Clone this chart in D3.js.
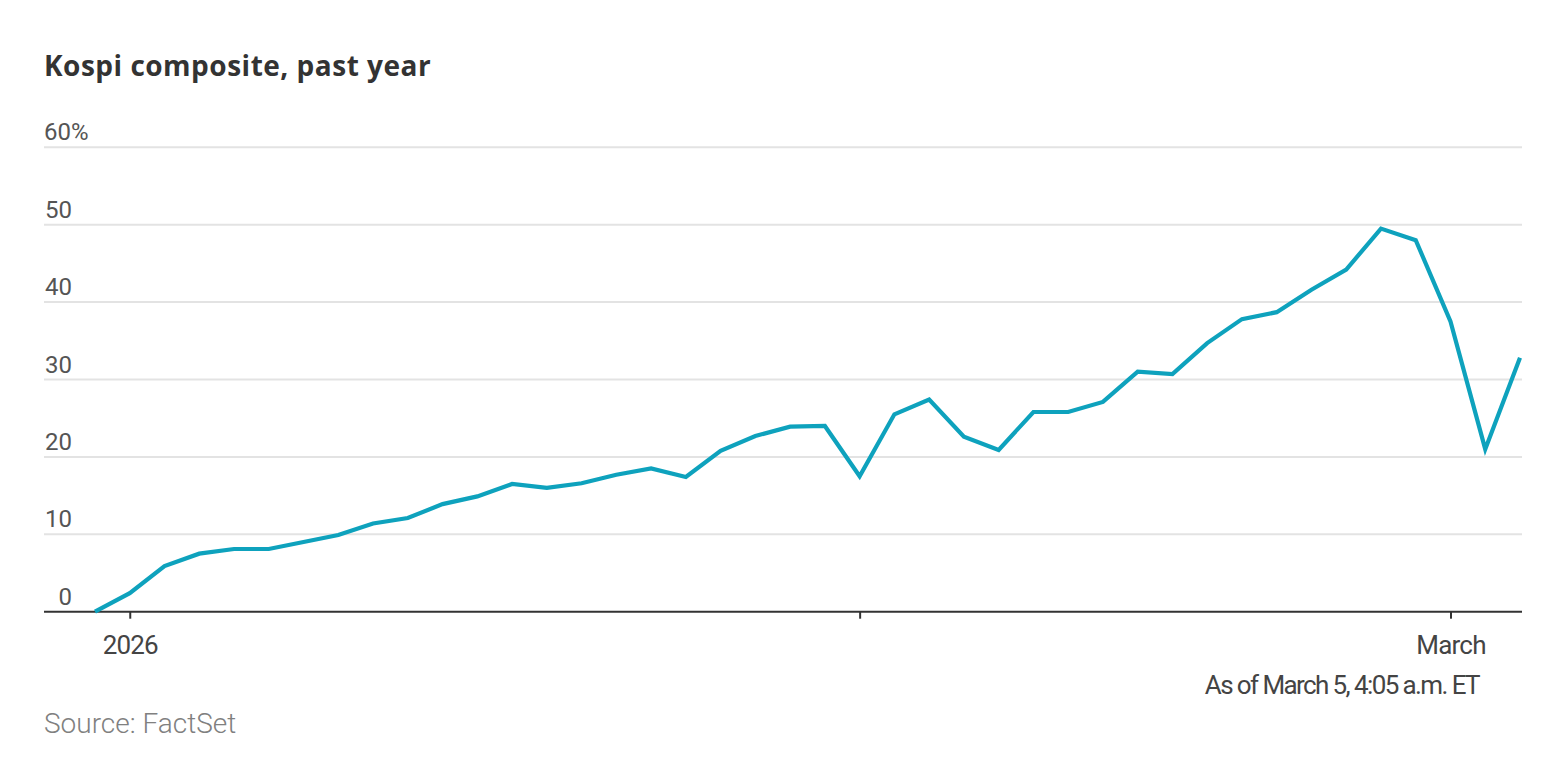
<!DOCTYPE html>
<html>
<head>
<meta charset="utf-8">
<script src="https://cdn.jsdelivr.net/npm/d3@7"></script>
<style>
  body { margin: 0; background: #fff; }
  svg { display: block; font-family: Roboto, "Noto Sans", sans-serif; }
</style>
</head>
<body>
<svg id="chart" width="1568" height="784"></svg>
<script>
// jours de bourse (Séoul), du 30 déc. 2025 au 5 mars 2026
var dates = [
  '2025-12-30',
  '2026-01-02','2026-01-05','2026-01-06','2026-01-07','2026-01-08','2026-01-09',
  '2026-01-12','2026-01-13','2026-01-14','2026-01-15','2026-01-16',
  '2026-01-19','2026-01-20','2026-01-21','2026-01-22','2026-01-23',
  '2026-01-26','2026-01-27','2026-01-28','2026-01-29','2026-01-30',
  '2026-02-02','2026-02-03','2026-02-04','2026-02-05','2026-02-06',
  '2026-02-09','2026-02-10','2026-02-11','2026-02-12','2026-02-13',
  '2026-02-19','2026-02-20',
  '2026-02-23','2026-02-24','2026-02-25','2026-02-26','2026-02-27',
  '2026-03-03','2026-03-04','2026-03-05'
];
// variation en % depuis le début
var pctChange = [
  0,
  2.4, 5.9, 7.5, 8.1, 8.1, 9.0,
  9.9, 11.4, 12.1, 13.9, 14.9,
  16.5, 16.0, 16.6, 17.7, 18.5,
  17.4, 20.8, 22.7, 23.9, 24.0,
  17.5, 25.5, 27.4, 22.6, 20.9,
  25.8, 25.8, 27.1, 31.0, 30.7,
  34.7, 37.8,
  38.7, 41.6, 44.2, 49.5, 48.0,
  37.5, 21.0, 32.8
];
var yTicks = [0, 10, 20, 30, 40, 50, 60];
var xTicks = ['2026-01-02', '2026-02-02', '2026-03-03'];
var xTickLabels = ['2026', '', 'March'];

var data = dates.map(function(d, i) { return { date: d, value: pctChange[i] }; });

var svg = d3.select('#chart');
var left = 44, right = 1522;

var x = d3.scalePoint().domain(dates).range([95, 1520]).padding(0);
var y = d3.scaleLinear().domain([0, 60]).range([611.7, 147.3]);

// titre
svg.append('text')
  .attr('x', 44).attr('y', 76)
  .attr('fill', '#333')
  .style('font-family', '"Open Sans", sans-serif')
  .style('font-size', '28px')
  .style('font-weight', 700)
  .style('letter-spacing', '0.5px')
  .text('Kospi composite, past year');

// grille + étiquettes Y
var grid = svg.append('g');
grid.selectAll('line')
  .data(yTicks.filter(function(d) { return d > 0; }))
  .enter().append('line')
  .attr('x1', left).attr('x2', right)
  .attr('y1', function(d) { return y(d); })
  .attr('y2', function(d) { return y(d); })
  .attr('stroke', '#e3e3e3')
  .attr('stroke-width', 2);

grid.selectAll('text')
  .data(yTicks)
  .enter().append('text')
  .attr('x', function(d) { return d === 60 ? left : 72; })
  .attr('y', function(d) { return y(d) - 7; })
  .attr('text-anchor', function(d) { return d === 60 ? 'start' : 'end'; })
  .attr('fill', '#555')
  .style('font-size', '24px')
  .style('font-weight', 400)
  .text(function(d) { return d === 60 ? d + '%' : d; });

// axe X
var xAxis = d3.axisBottom(x)
  .tickValues(xTicks)
  .tickSize(7)
  .tickPadding(17)
  .tickFormat(function(d, i) { return xTickLabels[i]; });

var gx = svg.append('g')
  .attr('transform', 'translate(0,' + y(0) + ')')
  .call(xAxis);
gx.select('.domain').remove();
gx.selectAll('.tick line').attr('stroke', '#333').attr('stroke-width', 2);
gx.selectAll('.tick text')
  .attr('fill', '#444')
  .style('font-family', 'Roboto, sans-serif')
  .style('font-size', '26px')
  .style('font-weight', 400)
  .style('letter-spacing', '-0.8px');

svg.append('line')
  .attr('x1', left).attr('x2', right)
  .attr('y1', y(0)).attr('y2', y(0))
  .attr('stroke', '#333')
  .attr('stroke-width', 2);

// courbe
var line = d3.line()
  .x(function(d) { return x(d.date); })
  .y(function(d) { return y(d.value); });

svg.append('path')
  .datum(data)
  .attr('d', line)
  .attr('fill', 'none')
  .attr('stroke', '#0ea2bd')
  .attr('stroke-width', 4.2)
  .attr('stroke-linejoin', 'miter');

// notes
svg.append('text')
  .attr('x', 1479).attr('y', 694)
  .attr('text-anchor', 'end')
  .attr('fill', '#444')
  .style('font-size', '26px')
  .style('font-weight', 400)
  .style('letter-spacing', '-1.6px')
  .text('As of March 5, 4:05 a.m. ET');

svg.append('text')
  .attr('x', 44).attr('y', 733)
  .attr('fill', '#808080')
  .style('font-size', '28px')
  .style('font-weight', 300)
  .text('Source: FactSet');
</script>
</body>
</html>
